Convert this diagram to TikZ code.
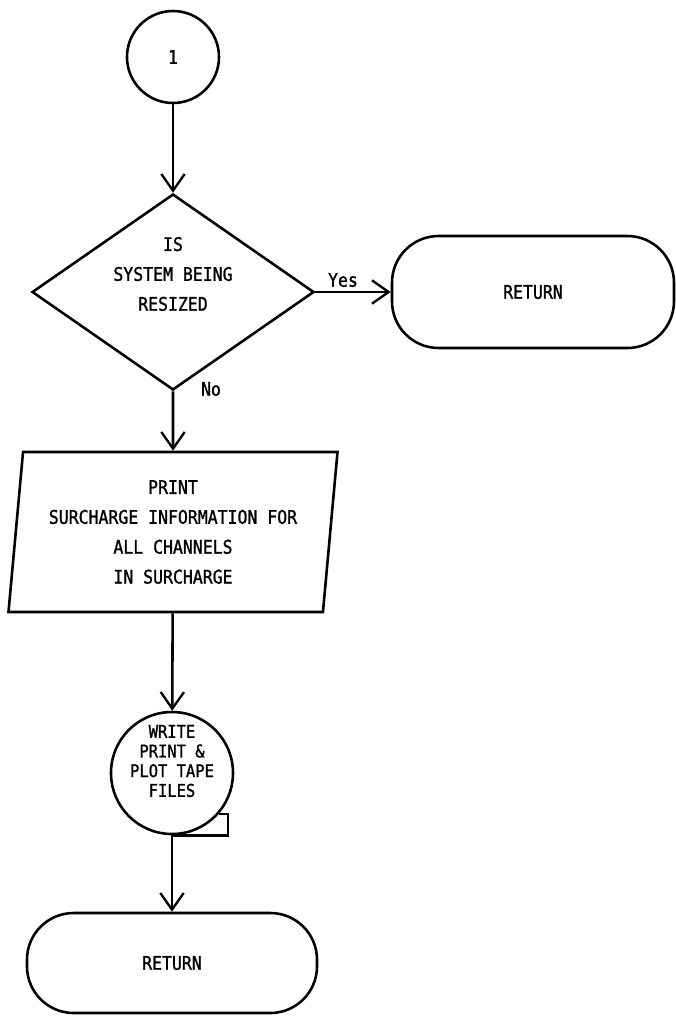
\documentclass[tikz,border=0pt]{standalone}
\usepackage{fontspec}
\setmonofont[FakeStretch=0.88, FakeBold=1.2]{DejaVu Sans Mono}
\usepackage{tikz}
\usetikzlibrary{arrows.meta,positioning,shapes.geometric,shapes.misc}

\tikzset{
  box/.style={draw=black, line width=2.2pt, inner sep=0pt},
  txt/.style={font=\ttfamily\fontsize{16}{25.5}\selectfont, align=center},
  flowline/.style={draw=black, line width=2.2pt,
                   -{Straight Barb[length=5mm,width=7mm,line width=2pt]}},
  terminal/.style={box, rectangle, rounded corners=1.4cm,
                   minimum width=8.46cm, minimum height=3.36cm},
}

\begin{document}
\begin{tikzpicture}[x=0.03cm, y=-0.03cm]
 \useasboundingbox (0,0) rectangle (676,1023);
 % connector and decision
 \node[box, circle, minimum size=2.76cm, txt] (start) at (173,57) {1};
 \node[box, diamond, minimum width=8.46cm, minimum height=5.88cm,
       label={[txt, yshift=0.54cm]center:IS\\SYSTEM BEING\\RESIZED}] (chk) at (173,292) {};
 \node[terminal, txt] (retA) at (533,292) {RETURN};
 % print block
 \node[box, trapezium, trapezium left angle=82, trapezium right angle=98,
       trapezium stretches body, minimum width=9.87cm, minimum height=4.8cm, txt]
   (prt) at (173,532) {PRINT\\SURCHARGE INFORMATION FOR\\ALL CHANNELS\\IN SURCHARGE};
 % tape
 \node[box, circle, minimum size=3.66cm,
       label={[txt, font=\ttfamily\fontsize{15}{16.8}\selectfont, yshift=0.36cm]center:WRITE\\PRINT \&\\PLOT TAPE\\FILES}]
   (wrt) at (172,773) {};
 \draw[line width=2.2pt] (wrt.south) -- ++(56,0) |- (wrt.-41);
 \node[terminal, minimum width=8.7cm, minimum height=3cm, txt] (retB) at (172,963) {RETURN};

 \draw[flowline] (start) -- (chk);
 \draw[flowline] (chk) -- (retA);
 \draw[flowline] (chk) -- (prt);
 \draw[flowline] (prt) -- (wrt);
 \draw[flowline] (wrt) -- (retB);
 \node[txt] (yes) at (343,280) {Yes};
 \node[txt] (no) at (211,389) {No};
\end{tikzpicture}
\end{document}
